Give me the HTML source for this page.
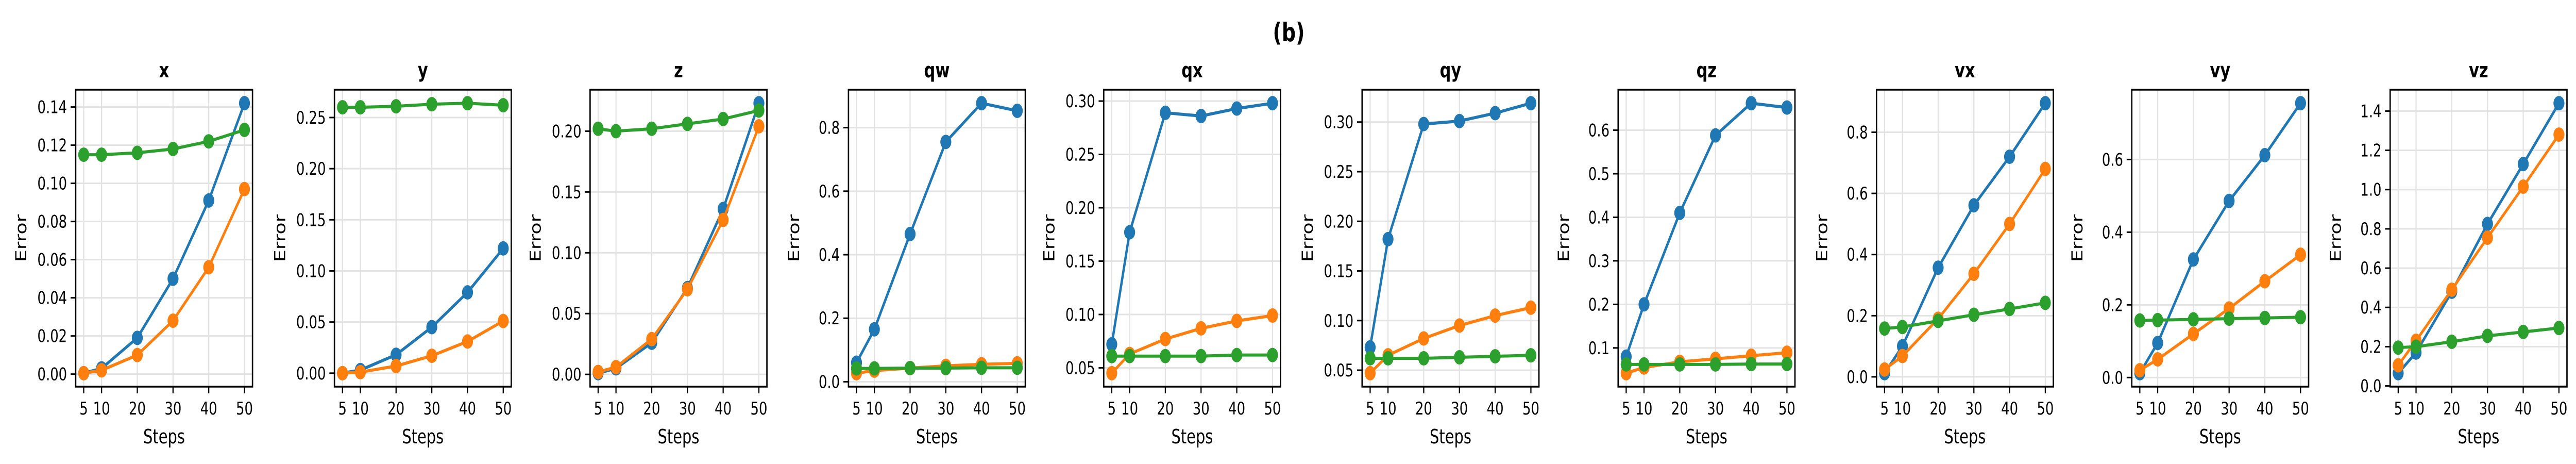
<!DOCTYPE html>
<html><head><meta charset="utf-8"><style>
html,body{margin:0;padding:0;background:#fff;width:100%;height:100%;overflow:hidden;}
svg{display:block;width:100vw;height:100vh;font-family:"DejaVu Sans","Liberation Sans",sans-serif;}
</style></head><body>
<svg id="fig" viewBox="0 0 6570 900" preserveAspectRatio="none" xmlns="http://www.w3.org/2000/svg">
<text x="3287" y="80" text-anchor="middle" font-size="50" font-weight="bold">(b)</text>
</svg>
<script>
const steps = [5, 10, 20, 30, 40, 50];
const panelNames = ["x","y","z","qw","qx","qy","qz","vx","vy","vz"];
const blueVals = [
 [0.0005,0.003,0.019,0.050,0.091,0.142],
 [0.000,0.003,0.018,0.045,0.079,0.122],
 [0.001,0.005,0.026,0.071,0.136,0.223],
 [0.060,0.165,0.465,0.755,0.877,0.853],
 [0.072,0.177,0.289,0.286,0.293,0.298],
 [0.073,0.182,0.298,0.301,0.309,0.319],
 [0.080,0.200,0.410,0.588,0.662,0.652],
 [0.012,0.100,0.357,0.561,0.720,0.895],
 [0.012,0.095,0.325,0.486,0.612,0.755],
 [0.065,0.170,0.480,0.825,1.130,1.440]
];
const orangeVals = [
 [0.0005,0.002,0.010,0.028,0.056,0.097],
 [0.000,0.001,0.007,0.017,0.031,0.051],
 [0.002,0.006,0.029,0.070,0.127,0.204],
 [0.027,0.035,0.043,0.050,0.055,0.058],
 [0.045,0.063,0.077,0.087,0.094,0.099],
 [0.047,0.065,0.082,0.095,0.105,0.113],
 [0.042,0.055,0.068,0.075,0.082,0.089],
 [0.024,0.068,0.190,0.337,0.500,0.680],
 [0.020,0.050,0.120,0.190,0.265,0.338],
 [0.105,0.230,0.490,0.755,1.015,1.280]
];
const greenVals = [
 [0.115,0.115,0.116,0.118,0.122,0.128],
 [0.260,0.260,0.261,0.263,0.264,0.262],
 [0.202,0.200,0.202,0.206,0.210,0.217],
 [0.042,0.042,0.043,0.043,0.044,0.044],
 [0.061,0.061,0.061,0.061,0.062,0.062],
 [0.062,0.062,0.062,0.063,0.064,0.065],
 [0.062,0.062,0.062,0.062,0.063,0.063],
 [0.158,0.163,0.183,0.203,0.222,0.242],
 [0.157,0.158,0.160,0.162,0.164,0.166],
 [0.195,0.200,0.225,0.255,0.275,0.295]
];
const yTickLabels = [
 ["0.00","0.02","0.04","0.06","0.08","0.10","0.12","0.14"],
 ["0.00","0.05","0.10","0.15","0.20","0.25"],
 ["0.00","0.05","0.10","0.15","0.20"],
 ["0.0","0.2","0.4","0.6","0.8"],
 ["0.05","0.10","0.15","0.20","0.25","0.30"],
 ["0.05","0.10","0.15","0.20","0.25","0.30"],
 ["0.1","0.2","0.3","0.4","0.5","0.6"],
 ["0.0","0.2","0.4","0.6","0.8"],
 ["0.0","0.2","0.4","0.6"],
 ["0.0","0.2","0.4","0.6","0.8","1.0","1.2","1.4"]
];
const xTickLabels = ["5","10","20","30","40","50"];
const colors = ["#1f77b4","#ff7f0e","#2ca02c"];
const seriesNames = ["blue","orange","green"];
const axLefts = [193,853,1505,2164,2815,3474,4127,4786,5437,6096];
const AXW = 451, TOP = 174, BOT = 750;
const NS = "http://www.w3.org/2000/svg";
const fig = document.getElementById('fig');
function mk(tag, attrs, parent){
  const e = document.createElementNS(NS, tag);
  for (const k in attrs) e.setAttribute(k, attrs[k]);
  (parent||fig).appendChild(e); return e;
}
for (let p = 0; p < panelNames.length; p++) {
  const L = axLefts[p], R = L + AXW;
  const g = mk('g', {});
  
  
  const all = blueVals[p].concat(orangeVals[p], greenVals[p]);
  let mn = Math.min(...all), mx = Math.max(...all);
  const rg = mx - mn;
  const y0 = mn - 0.05*rg, y1 = mx + 0.05*rg;
  const xs = v => L + (v - 2.75) / 49.5 * AXW;
  const ys = v => BOT - (v - y0) / (y1 - y0) * (BOT - TOP);
  for (const s of steps) {
    const gl = mk('line', {x1: xs(s), x2: xs(s), y1: TOP, y2: BOT, stroke: '#e3e3e3', 'stroke-width': 3}, g);
    
    
  }
  for (const t of yTickLabels[p]) {
    const v = parseFloat(t), y = ys(v);
    const gl = mk('line', {x1: L, x2: R, y1: y, y2: y, stroke: '#e3e3e3', 'stroke-width': 3}, g);
    
    
    const tk = mk('line', {x1: L - 13, x2: L, y1: y, y2: y, stroke: '#000', 'stroke-width': 3}, g);
    
    
    const tl = mk('text', {x: L - 22, y: y + 12, 'text-anchor': 'end', 'font-size': 34}, g);
    tl.textContent = t;
    
    
  }
  for (let i = 0; i < steps.length; i++) {
    const x = xs(steps[i]);
    const tk = mk('line', {x1: x, x2: x, y1: BOT, y2: BOT + 13, stroke: '#000', 'stroke-width': 3}, g);
    
    
    const tl = mk('text', {x: x, y: 804, 'text-anchor': 'middle', 'font-size': 34}, g);
    tl.textContent = xTickLabels[i];
    
    
  }
  const seriesList = [blueVals[p], orangeVals[p], greenVals[p]];
  for (let s = 0; s < 3; s++) {
    const sg = mk('g', {}, g);
    
    
    const pts = steps.map((st, i) => xs(st) + ',' + ys(seriesList[s][i])).join(' ');
    const pl = mk('polyline', {points: pts, fill: 'none', stroke: colors[s], 'stroke-width': 6, 'stroke-linejoin': 'round'}, sg);
    
    
    for (let i = 0; i < steps.length; i++) {
      const c = mk('circle', {cx: xs(steps[i]), cy: ys(seriesList[s][i]), r: 14, fill: colors[s]}, sg);
      
      
    }
  }
  const fr = mk('rect', {x: L, y: TOP, width: AXW, height: BOT - TOP, fill: 'none', stroke: '#000', 'stroke-width': 3.5}, g);
  
  
  const ti = mk('text', {x: L + AXW/2, y: 150, 'text-anchor': 'middle', 'font-size': 40, 'font-weight': 'bold'}, g);
  ti.textContent = panelNames[p];
  
  
  const xl = mk('text', {x: L + AXW/2, y: 860, 'text-anchor': 'middle', 'font-size': 38}, g);
  xl.textContent = 'Steps';
  
  
  const lx = L - 126, ly = (TOP + BOT) / 2;
  const yl = mk('text', {x: lx, y: ly, 'text-anchor': 'middle', 'font-size': 38, transform: 'rotate(-90 ' + lx + ' ' + ly + ')'}, g);
  yl.textContent = 'Error';
  
  
}
</script>
</body></html>
